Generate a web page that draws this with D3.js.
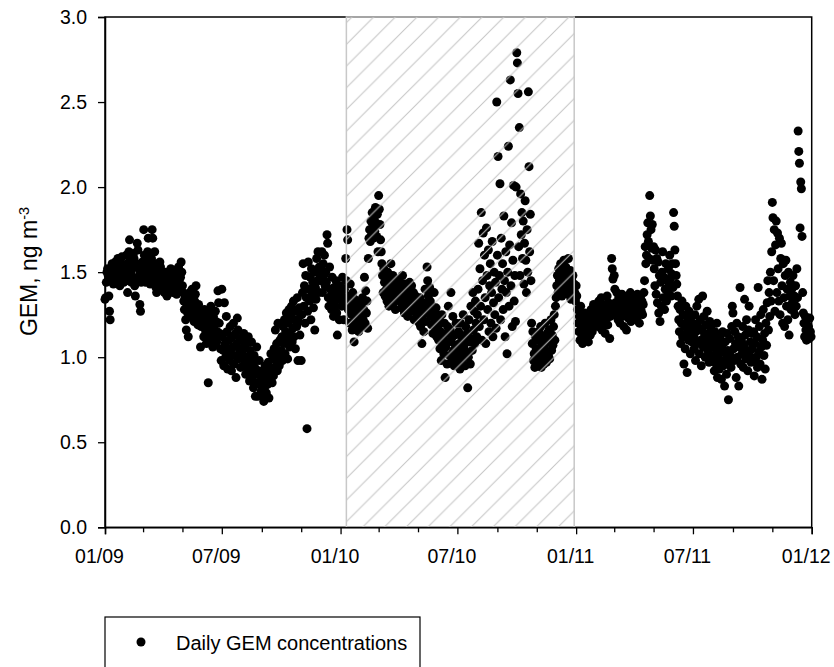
<!DOCTYPE html>
<html>
<head>
<meta charset="utf-8">
<script src="https://cdn.jsdelivr.net/npm/d3@7"></script>
<style>
  body { margin: 0; background: #fff; }
  svg { display: block; font-family: "Liberation Sans", Arial, sans-serif; }
</style>
</head>
<body>
<div id="chart"></div>
<script>
// daily GEM concentrations (ng m-3), one value per day
var gem2009 = [
  1.34,1.35,1.44,1.50,1.52,1.48,1.36,1.27,1.22,1.45,1.52,1.55,1.49,1.43,1.46,1.51,1.56,1.48,1.45,1.53,1.58,1.50,1.47,1.42,1.49,1.55,1.59,1.52,1.46,1.44,1.50,
  1.48,1.52,1.60,1.55,1.38,1.45,1.62,1.69,1.57,1.50,1.44,1.47,1.53,1.61,1.58,1.42,1.36,1.46,1.55,1.67,1.63,1.52,1.48,1.31,1.27,1.44,1.50,1.56,
  1.52,1.75,1.60,1.48,1.44,1.56,1.50,1.62,1.70,1.54,1.47,1.43,1.49,1.58,1.75,1.70,1.52,1.45,1.62,1.55,1.41,1.38,1.47,1.51,1.44,1.48,1.56,1.53,1.46,1.42,1.40,
  1.45,1.40,1.38,1.46,1.50,1.43,1.36,1.41,1.48,1.44,1.39,1.45,1.52,1.47,1.42,1.38,1.44,1.49,1.51,1.46,1.40,1.37,1.43,1.48,1.53,1.45,1.41,1.47,1.56,1.50,
  1.42,1.38,1.33,1.28,1.35,1.22,1.16,1.30,1.26,1.12,1.32,1.38,1.29,1.24,1.35,1.40,1.31,1.27,1.21,1.33,1.37,1.42,1.29,1.25,1.19,1.31,1.28,1.23,1.06,1.18,1.26,
  1.25,1.18,1.12,1.28,1.22,1.15,1.08,1.20,1.26,0.85,1.16,1.10,1.22,1.30,1.19,1.13,1.06,1.24,1.18,1.12,1.27,1.21,1.09,1.15,1.39,1.32,1.20,1.14,1.05,0.98,
  1.40,1.12,1.04,0.95,1.32,1.08,1.00,1.24,1.15,0.93,1.05,1.10,0.98,1.18,1.02,0.92,1.12,1.06,1.20,0.96,1.01,1.14,0.88,1.08,1.23,1.16,0.99,1.05,1.11,0.94,1.03,
  1.10,1.02,0.95,1.14,1.06,0.98,0.90,1.08,1.00,0.93,1.12,0.96,0.86,1.04,0.92,1.09,0.88,0.97,0.82,1.01,0.94,0.77,0.90,1.06,0.85,0.77,0.92,0.98,0.84,0.89,0.80,
  0.86,0.78,0.92,0.74,0.82,0.95,0.88,0.79,0.90,0.84,0.97,0.76,0.91,0.87,1.02,0.93,0.85,0.99,0.89,1.05,0.94,1.16,0.98,1.08,0.92,1.20,1.01,0.95,1.10,1.03,
  1.04,1.12,0.98,1.18,1.08,1.22,1.02,1.15,1.26,1.10,0.99,1.20,1.28,1.06,1.14,1.24,1.30,1.09,1.17,1.33,1.12,1.22,1.05,1.27,1.18,1.35,0.98,1.21,1.29,1.13,1.25,
  0.98,1.25,1.38,1.55,1.30,1.42,1.20,1.48,1.35,0.58,1.27,1.56,1.40,1.33,1.47,1.22,1.52,1.37,1.44,1.29,1.50,1.16,1.41,1.34,1.58,1.45,1.62,1.38,1.53,1.48,
  1.45,1.52,1.62,1.38,1.55,1.48,1.60,1.42,1.50,1.44,1.72,1.67,1.35,1.30,1.53,1.40,1.36,1.28,1.47,1.33,1.24,1.41,1.38,1.30,1.45,1.26,1.13,1.34,1.40,1.22,1.37
];

var gem2010 = [
  1.42,1.38,1.30,1.47,1.35,1.22,1.40,1.33,1.58,1.45,1.75,1.69,1.28,1.36,1.20,1.43,1.31,1.25,1.16,1.38,1.29,1.09,1.34,1.23,1.18,1.27,1.21,1.32,1.15,1.26,1.19,
  1.24,1.30,1.18,1.35,1.22,1.28,1.47,1.20,1.39,1.26,1.33,1.17,1.58,1.70,1.75,1.68,1.80,1.72,1.85,1.77,1.70,1.82,1.74,1.88,1.79,1.71,1.84,1.62,
  1.95,1.87,1.78,1.69,1.62,1.55,1.48,1.38,1.52,1.44,1.36,1.47,1.40,1.33,1.50,1.42,1.30,1.45,1.37,1.55,1.41,1.35,1.48,1.32,1.43,1.39,1.28,1.46,1.34,1.40,1.36,
  1.38,1.45,1.33,1.41,1.29,1.36,1.48,1.31,1.39,1.26,1.43,1.35,1.30,1.40,1.24,1.37,1.32,1.44,1.28,1.35,1.42,1.27,1.33,1.38,1.22,1.31,1.36,1.29,1.25,1.34,
  1.30,1.25,1.20,1.35,1.18,1.28,1.08,1.22,1.32,1.15,1.26,1.40,1.21,1.30,1.53,1.45,1.36,1.27,1.41,1.33,1.24,1.19,1.30,1.14,1.26,1.38,1.22,1.17,1.29,1.12,1.25,
  1.18,1.10,1.22,1.05,1.15,0.98,1.25,1.08,1.12,1.02,1.20,0.88,1.06,1.14,0.96,1.18,1.30,1.09,1.01,1.16,1.38,1.11,0.99,1.24,1.04,0.95,1.13,1.07,1.20,1.00,
  1.05,0.97,1.15,1.08,0.93,1.20,1.02,1.12,0.98,1.25,1.06,1.10,0.95,1.18,1.03,1.14,0.82,1.00,1.22,1.09,0.96,1.30,1.11,1.04,1.38,1.16,1.27,1.08,1.33,1.20,1.12,
  1.25,1.40,1.67,1.18,1.52,1.30,1.85,1.10,1.45,1.73,1.22,1.60,1.35,1.08,1.76,1.48,1.28,1.63,1.15,1.42,1.55,1.20,1.38,1.68,1.12,1.32,1.50,1.25,1.44,1.17,2.50,
  1.60,2.18,1.35,1.48,2.02,1.22,1.70,1.40,1.55,1.28,1.83,1.45,1.12,1.62,1.38,1.02,1.50,2.24,1.30,1.66,2.63,1.42,1.79,1.18,1.57,2.01,1.33,1.48,1.21,2.00,
  2.79,2.73,2.55,1.65,2.35,1.48,1.96,1.72,1.85,1.58,1.80,1.43,1.67,1.92,1.57,1.38,1.75,1.50,2.56,2.12,1.62,1.84,1.45,1.20,1.08,1.15,0.98,1.02,0.94,1.12,1.05,
  1.10,0.98,1.05,1.15,0.95,1.02,1.18,0.94,1.08,1.00,1.12,0.96,1.06,1.20,1.03,0.97,1.14,1.09,1.01,1.16,0.99,1.11,1.22,1.04,1.13,1.07,1.18,1.25,1.10,1.30,
  1.35,1.42,1.48,1.38,1.52,1.45,1.40,1.55,1.47,1.36,1.50,1.43,1.57,1.46,1.39,1.53,1.44,1.49,1.37,1.58,1.45,1.41,1.51,1.34,1.46,1.40,1.48,1.36,1.43,1.38,1.33
];

var gem2011 = [
  1.42,1.36,1.28,1.20,1.15,1.24,1.10,1.30,1.18,1.12,1.08,1.22,1.16,1.26,1.19,1.11,1.25,1.14,1.21,1.09,1.17,1.23,1.13,1.28,1.20,1.15,1.26,1.31,1.18,1.24,1.29,
  1.22,1.30,1.26,1.18,1.33,1.24,1.20,1.28,1.35,1.16,1.25,1.31,1.21,1.27,1.14,1.29,1.23,1.36,1.19,1.32,1.26,1.11,1.24,1.30,1.58,1.52,1.46,1.28,
  1.48,1.40,1.32,1.25,1.38,1.30,1.22,1.35,1.28,1.20,1.33,1.26,1.37,1.24,1.30,1.18,1.34,1.27,1.31,1.16,1.29,1.36,1.23,1.32,1.25,1.38,1.21,1.28,1.34,1.26,1.30,
  1.30,1.24,1.35,1.28,1.22,1.37,1.26,1.32,1.20,1.29,1.36,1.27,1.33,1.25,1.31,1.38,1.45,1.65,1.55,1.60,1.72,1.79,1.68,1.58,1.95,1.83,1.75,1.64,1.78,1.57,
  1.65,1.52,1.42,1.63,1.37,1.58,1.32,1.56,1.26,1.48,1.21,1.44,1.30,1.50,1.62,1.35,1.47,1.28,1.40,1.55,1.33,1.45,1.38,1.52,1.42,1.60,1.46,1.36,1.49,1.55,1.41,
  1.85,1.77,1.63,1.55,1.48,1.43,1.36,1.30,1.22,1.15,1.28,1.08,1.20,1.33,1.12,1.25,0.96,1.18,1.05,1.30,1.14,0.91,1.22,1.10,1.27,1.16,1.02,1.24,1.09,1.19,
  1.20,1.12,1.05,1.25,0.98,1.15,1.30,1.08,1.18,1.34,1.02,1.22,1.10,0.95,1.16,1.36,1.06,1.24,1.13,1.00,1.19,1.09,1.27,1.04,1.14,0.97,1.21,1.07,1.17,1.01,1.11,
  1.10,1.00,0.92,1.15,1.05,0.96,1.20,0.88,1.08,1.02,0.93,1.12,0.98,0.87,1.06,1.15,0.95,1.03,0.83,1.09,0.99,0.90,1.14,1.04,0.75,0.97,1.11,1.01,0.94,1.18,1.30,
  1.26,1.05,0.98,1.15,1.08,0.88,1.20,1.00,1.12,0.83,1.06,1.41,0.96,1.10,1.02,1.18,0.94,1.07,1.34,1.13,0.99,1.22,1.04,0.92,1.16,1.30,1.01,1.09,0.97,1.14,
  1.05,0.98,1.15,0.89,1.08,1.22,1.00,1.12,0.94,1.41,1.03,1.18,0.96,1.25,1.06,0.87,1.10,1.28,1.01,1.14,0.93,1.20,1.07,1.32,1.45,1.16,1.38,1.24,1.50,1.33,1.62,
  1.91,1.82,1.45,1.75,1.27,1.66,1.80,1.38,1.73,1.52,1.33,1.70,1.25,1.58,1.67,1.42,1.20,1.55,1.35,1.18,1.48,1.57,1.30,1.40,1.22,1.50,1.13,1.36,1.44,1.28,
  1.40,1.32,1.48,1.28,1.36,1.25,1.42,1.30,1.52,1.35,2.33,2.21,2.14,1.76,2.03,1.99,1.71,1.38,1.26,1.20,1.12,1.24,1.16,1.10,1.22,1.13,1.18,1.11,1.23,1.15,1.12
];

var years = [2009, 2010, 2011];
var yTicks = [0, 0.5, 1.0, 1.5, 2.0, 2.5, 3.0];
// shaded (hatched) period
var hatchStart = new Date(2010, 0, 10),
  hatchEnd = new Date(2010, 11, 29);
var legendLabel = "Daily GEM concentrations";

var margin = { top: 17, right: 22.3, bottom: 139.7, left: 105 },
  width = 834 - margin.left - margin.right,
  height = 667 - margin.top - margin.bottom;

var data = [];
[gem2009, gem2010, gem2011].forEach(function (vals, k) {
  var start = new Date(years[k], 0, 1);
  vals.forEach(function (v, i) {
    data.push({ date: d3.timeDay.offset(start, i), value: v });
  });
});

var x = d3.scaleTime()
  .domain([new Date(2009, 0, 1), new Date(2012, 0, 1)])
  .range([0, width]);

var y = d3.scaleLinear()
  .domain([0, 3])
  .range([height, 0]);

var svg = d3.select("#chart").append("svg")
  .attr("width", 834)
  .attr("height", 667);

svg.append("rect").attr("width", 834).attr("height", 667).attr("fill", "#fff");

var defs = svg.append("defs");
var hs = 21.7;
var pat = defs.append("pattern")
  .attr("id", "hatch")
  .attr("patternUnits", "userSpaceOnUse")
  .attr("x", margin.left + 16.5 - hs * 5)
  .attr("y", margin.top)
  .attr("width", hs)
  .attr("height", hs);
pat.append("path")
  .attr("d", "M0," + hs + "L" + hs + ",0M-2,2L2,-2M" + (hs - 2) + "," + (hs + 2) + "L" + (hs + 2) + "," + (hs - 2))
  .attr("stroke", "#c4c4c4")
  .attr("stroke-width", 1)
  .attr("fill", "none");

var g = svg.append("g")
  .attr("transform", "translate(" + margin.left + "," + margin.top + ")");

// frame
g.append("rect")
  .attr("width", width)
  .attr("height", height)
  .attr("fill", "none")
  .attr("stroke", "#000")
  .attr("stroke-width", 1.5);

// dots
g.append("g")
  .selectAll("circle")
  .data(data)
  .enter()
  .append("circle")
  .attr("cx", function (d) { return x(d.date); })
  .attr("cy", function (d) { return y(d.value); })
  .attr("r", 4.5)
  .attr("fill", "#000");

// hatched period, drawn over the dots
g.append("rect")
  .attr("x", x(hatchStart))
  .attr("y", 0)
  .attr("width", x(hatchEnd) - x(hatchStart))
  .attr("height", height)
  .attr("fill", "url(#hatch)")
  .attr("stroke", "#c8c8c8")
  .attr("stroke-width", 1.5);

// x axis
var xTicks = d3.timeMonth.every(2).range(new Date(2009, 0, 1), new Date(2012, 0, 2));
var fmt = d3.timeFormat("%m/%y");
var xAxis = d3.axisBottom(x)
  .tickValues(xTicks)
  .tickSize(7)
  .tickPadding(15)
  .tickFormat(function (d) { return d.getMonth() % 6 === 0 ? fmt(d) : ""; });

var gx = g.append("g")
  .attr("transform", "translate(0," + height + ")")
  .call(xAxis);
gx.selectAll(".tick line")
  .attr("y2", function (d) { return d.getMonth() % 6 === 0 ? 7 : 5; })
  .attr("stroke-width", 1.3);
gx.selectAll(".tick text")
  .attr("x", -6)
  .style("font-size", "19.5px")
  .style("font-family", "'Liberation Sans', Arial, sans-serif")
  .attr("fill", "#000");
gx.select(".domain").attr("stroke-width", 1.5);

// y axis
var yAxis = d3.axisLeft(y)
  .tickValues(yTicks)
  .tickSize(7)
  .tickPadding(11)
  .tickFormat(d3.format(".1f"));

var gy = g.append("g").call(yAxis);
gy.selectAll(".tick line").attr("stroke-width", 1.3);
gy.selectAll(".tick text")
  .style("font-size", "19.5px")
  .style("font-family", "'Liberation Sans', Arial, sans-serif")
  .attr("fill", "#000");
gy.select(".domain").attr("stroke-width", 1.5);

// y label
var ylab = svg.append("text")
  .attr("transform", "translate(37,271.5) rotate(-90)")
  .attr("text-anchor", "middle")
  .style("font-size", "23px");
ylab.append("tspan").text("GEM, ng m");
ylab.append("tspan")
  .attr("dy", -8.5)
  .style("font-size", "14.5px")
  .text("-3");

// legend
var legend = svg.append("g");
legend.append("rect")
  .attr("x", 105)
  .attr("y", 617)
  .attr("width", 315)
  .attr("height", 80)
  .attr("fill", "#fff")
  .attr("stroke", "#000")
  .attr("stroke-width", 1.2);
legend.append("circle")
  .attr("cx", 141)
  .attr("cy", 642)
  .attr("r", 4.5)
  .attr("fill", "#000");
legend.append("text")
  .attr("x", 176)
  .attr("y", 649.5)
  .style("font-size", "20px")
  .text(legendLabel);
</script>
</body>
</html>
